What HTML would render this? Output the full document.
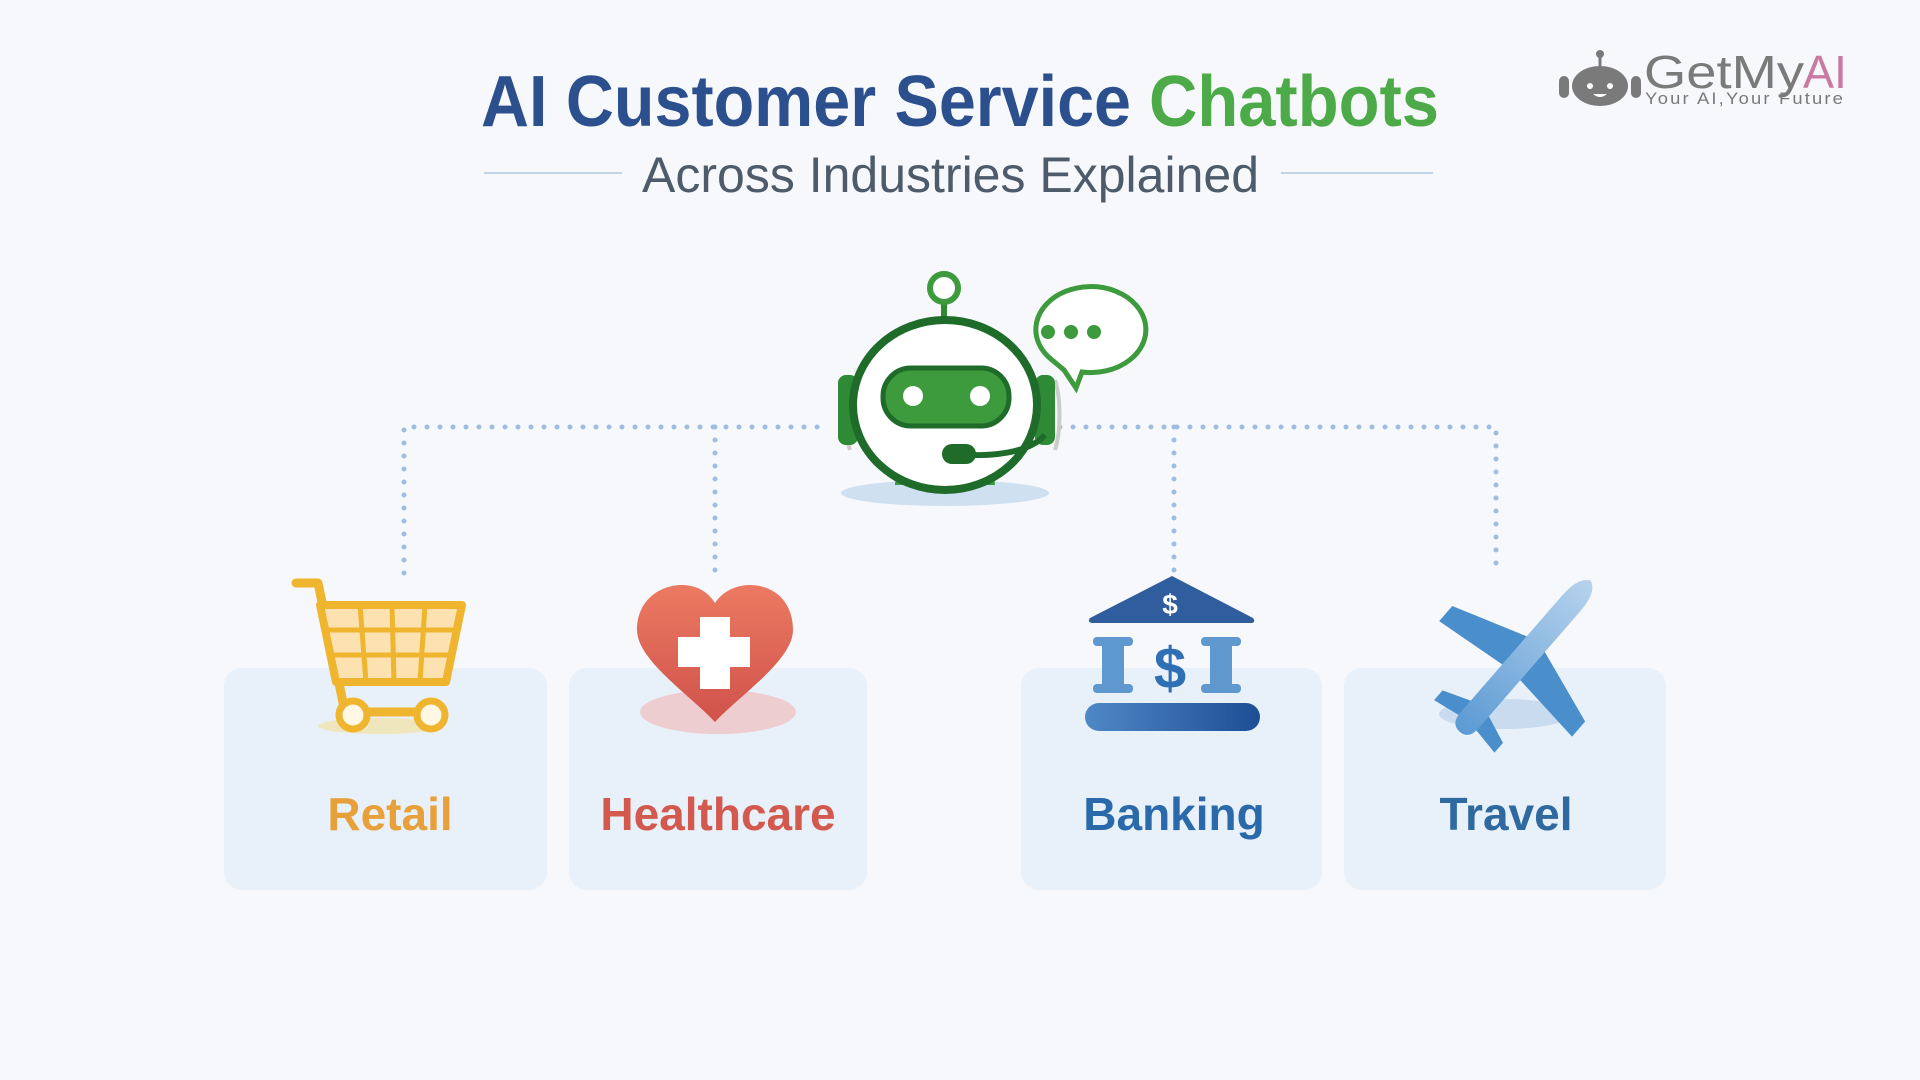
<!DOCTYPE html>
<html><head><meta charset="utf-8"><style>
html,body{margin:0;padding:0;background:#f7f8fb;}
svg{display:block;font-family:"Liberation Sans",sans-serif;}
</style></head><body>
<svg width="1920" height="1080" viewBox="0 0 1920 1080" xmlns="http://www.w3.org/2000/svg">
<defs>
<linearGradient id="bk" x1="0" x2="1"><stop offset="0" stop-color="#4f88c6"/><stop offset="1" stop-color="#1d4e95"/></linearGradient>
<linearGradient id="pl" x1="0" y1="0" x2="1" y2="0"><stop offset="0" stop-color="#5b9ad3"/><stop offset="1" stop-color="#b7d3ee"/></linearGradient>
<linearGradient id="ht" x1="0" y1="0" x2="0" y2="1"><stop offset="0" stop-color="#ec7a62"/><stop offset="1" stop-color="#d0524a"/></linearGradient>
</defs>
<rect width="1920" height="1080" fill="#f7f8fb"/>
<!-- title -->
<text x="481" y="126" font-size="72" font-weight="bold" fill="#2c4f8e" textLength="650" lengthAdjust="spacingAndGlyphs">AI Customer Service</text>
<text x="1149" y="126" font-size="72" font-weight="bold" fill="#4caa48" textLength="290" lengthAdjust="spacingAndGlyphs">Chatbots</text>
<text x="642" y="192" font-size="50" fill="#4d5b6a" textLength="617" lengthAdjust="spacingAndGlyphs">Across Industries Explained</text>
<line x1="484" y1="173" x2="622" y2="173" stroke="#c3d3e6" stroke-width="2"/>
<line x1="1281" y1="173" x2="1433" y2="173" stroke="#c3d3e6" stroke-width="2"/>
<!-- logo -->
<g fill="#7a7a7a">
<ellipse cx="1600" cy="86" rx="28" ry="20"/>
<rect x="1559" y="76" width="10" height="22" rx="5"/><rect x="1631" y="76" width="10" height="22" rx="5"/>
<line x1="1600" y1="66" x2="1600" y2="56" stroke="#7a7a7a" stroke-width="3"/><circle cx="1600" cy="54" r="4"/>
<circle cx="1590" cy="86" r="3" fill="#fff"/><circle cx="1610" cy="86" r="3" fill="#fff"/>
<path d="M1593 94 q7 6 14 0" fill="#fff"/>
<text x="1644" y="88" font-size="46" textLength="160" lengthAdjust="spacingAndGlyphs">GetMy</text>
<text x="1645" y="104" font-size="17" textLength="200" lengthAdjust="spacingAndGlyphs" letter-spacing="2">Your AI,Your Future</text>
</g>
<text x="1803" y="88" font-size="46" fill="#c97aa0" textLength="44" lengthAdjust="spacingAndGlyphs">AI</text>
<!-- dotted connectors -->
<g stroke="#9fbde0" stroke-width="5" stroke-linecap="round" stroke-dasharray="0 13" fill="none">
<path d="M404 573 V427 H830"/>
<path d="M1060 427 H1496 V573"/>
<path d="M715 427 V573"/>
<path d="M1174 427 V573"/>
</g>
<!-- cards -->
<g fill="#e8f0f9">
<rect x="224" y="668" width="323" height="222" rx="18"/>
<rect x="569" y="668" width="298" height="222" rx="18"/>
<rect x="1021" y="668" width="301" height="222" rx="18"/>
<rect x="1344" y="668" width="322" height="222" rx="18"/>
</g>
<text x="390" y="830" font-size="46" font-weight="bold" fill="#e8a03a" text-anchor="middle">Retail</text>
<text x="718" y="830" font-size="46" font-weight="bold" fill="#d3594e" text-anchor="middle">Healthcare</text>
<text x="1174" y="830" font-size="46" font-weight="bold" fill="#2a69aa" text-anchor="middle">Banking</text>
<text x="1506" y="830" font-size="46" font-weight="bold" fill="#2e69a0" text-anchor="middle">Travel</text>
<!-- robot -->
<ellipse cx="945" cy="493" rx="104" ry="13" fill="#cfe0f1"/>
<path d="M895 485 q0 -25 50 -25 q50 0 50 25 z" fill="#3d9a3d"/>
<line x1="944" y1="300" x2="944" y2="325" stroke="#2f8a33" stroke-width="6"/>
<circle cx="944" cy="288" r="14" fill="#fff" stroke="#3d9a3d" stroke-width="6"/>
<path d="M1052 360 a55 43 0 1 1 30 12 l-6 16 l-12 -18 z" fill="#fff" stroke="#3d9a3d" stroke-width="5"/>
<circle cx="1048" cy="332" r="7" fill="#3d9a3d"/><circle cx="1071" cy="332" r="7" fill="#3d9a3d"/><circle cx="1094" cy="332" r="7" fill="#3d9a3d"/>
<path d="M850 380 a12 45 0 0 0 0 70" fill="none" stroke="#ccc" stroke-width="4"/>
<path d="M1055 380 a12 45 0 0 1 0 70" fill="none" stroke="#ccc" stroke-width="4"/>
<rect x="838" y="375" width="20" height="70" rx="8" fill="#2e8a34"/>
<rect x="1035" y="375" width="20" height="70" rx="8" fill="#2e8a34"/>
<ellipse cx="945" cy="405" rx="92" ry="85" fill="#fff" stroke="#1f6b2a" stroke-width="8"/>
<rect x="883" y="368" width="126" height="58" rx="28" fill="#3d9a3d" stroke="#1f6b2a" stroke-width="5"/>
<circle cx="913" cy="396" r="10" fill="#fff"/><circle cx="980" cy="396" r="10" fill="#fff"/>
<path d="M1045 435 q-20 22 -80 20" fill="none" stroke="#1f6b2a" stroke-width="6"/>
<rect x="942" y="444" width="34" height="20" rx="10" fill="#1f6b2a"/>
<!-- cart -->
<g>
<ellipse cx="380" cy="726" rx="62" ry="8" fill="#efe6bd"/>
<path d="M296 583 H318 L345 712 H430" fill="none" stroke="#f0b52e" stroke-width="9" stroke-linejoin="round" stroke-linecap="round"/>
<path d="M320 605 H462 L446 682 H336 Z" fill="#fbe2b0" stroke="#f0b52e" stroke-width="8" stroke-linejoin="round"/>
<g stroke="#f0b52e" stroke-width="5"><line x1="326" y1="630" x2="457" y2="630"/><line x1="330" y1="655" x2="452" y2="655"/><line x1="360" y1="605" x2="366" y2="682"/><line x1="392" y1="605" x2="394" y2="682"/><line x1="425" y1="605" x2="420" y2="682"/></g>
<circle cx="353" cy="715" r="14" fill="#fff8e4" stroke="#f0b52e" stroke-width="7"/>
<circle cx="431" cy="715" r="14" fill="#fff8e4" stroke="#f0b52e" stroke-width="7"/>
</g>
<!-- heart -->
<ellipse cx="718" cy="712" rx="78" ry="22" fill="#eecdd0"/>
<path d="M715 722 C690 695 637 660 637 630 C637 600 660 585 682 585 C700 585 710 595 715 603 C720 595 732 585 750 585 C772 585 793 600 793 630 C793 660 740 695 715 722 Z" fill="url(#ht)"/>
<path d="M700 617 h30 v20 h20 v30 h-20 v22 h-30 v-22 h-22 v-30 h22 z" fill="#fff"/>
<!-- bank -->
<path d="M1172 576 L1090 618 Q1087 622 1092 623 H1252 Q1256 622 1253 618 Z" fill="#2f5d9e"/>
<text x="1170" y="614" font-size="28" font-weight="bold" fill="#fff" text-anchor="middle">$</text>
<g fill="#5f97cf"><rect x="1102" y="640" width="22" height="50"/><rect x="1210" y="640" width="22" height="50"/>
<rect x="1093" y="637" width="40" height="9" rx="4"/><rect x="1201" y="637" width="40" height="9" rx="4"/>
<rect x="1093" y="684" width="40" height="9" rx="4"/><rect x="1201" y="684" width="40" height="9" rx="4"/></g>
<text x="1170" y="688" font-size="58" font-weight="bold" fill="#2f70b5" text-anchor="middle">$</text>
<rect x="1085" y="703" width="175" height="28" rx="14" fill="url(#bk)"/>
<!-- plane -->
<ellipse cx="1505" cy="714" rx="66" ry="15" fill="#c9dbef"/>
<g transform="translate(1522 660) rotate(-49)">
<path d="M22 -9 L-5 -88 L-25 -88 L-16 -9 Z M22 9 L-5 88 L-25 88 L-16 9 Z" fill="#4a8fcb"/>
<path d="M-62 -6 L-75 -40 L-88 -40 L-82 -6 Z M-62 6 L-75 40 L-88 40 L-82 6 Z" fill="#4a8fcb"/>
<path d="M-95 0 Q-95 -12 -80 -12 H75 Q100 -12 105 0 Q100 12 75 12 H-80 Q-95 12 -95 0 Z" fill="url(#pl)"/>
</g>
</svg>
</body></html>
